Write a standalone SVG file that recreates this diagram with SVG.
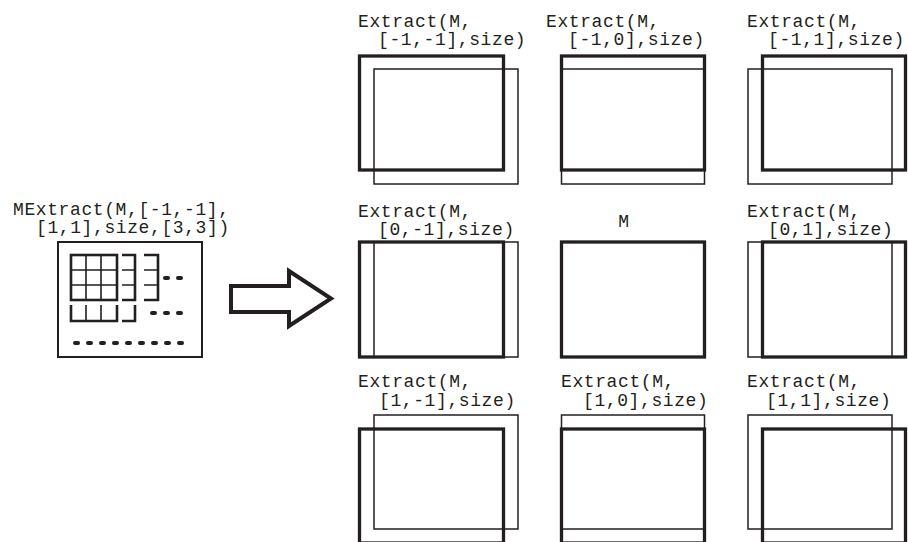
<svg xmlns="http://www.w3.org/2000/svg" width="908" height="542" viewBox="0 0 908 542">
<style>
text{font-family:"Liberation Mono","DejaVu Sans Mono",monospace;font-size:18px;letter-spacing:0.6px;fill:#231f20}
.thin{fill:none;stroke:#231f20;stroke-width:1.5}
.thick{fill:none;stroke:#231f20;stroke-width:3.3}
.ic{fill:none;stroke:#231f20;stroke-width:2.6}
.ic2{fill:none;stroke:#231f20;stroke-width:1.6}
.dots{fill:none;stroke:#231f20;stroke-width:4;stroke-linecap:round;stroke-dasharray:3 10}
</style>
<rect width="908" height="542" fill="#fff"/>

<g id="mextract">
<text x="13" y="215">MExtract(M,[-1,-1],</text>
<text x="36" y="233">[1,1],size,[3,3])</text>
<rect x="58" y="242" width="144" height="115" fill="none" stroke="#231f20" stroke-width="2"/>
<path class="ic2" d="M86 255V300M101 255V300M71 270H117M71 285H117"/>
<rect class="ic" x="71" y="255" width="46" height="45"/>
<path class="ic" d="M122 255H135V300H122"/>
<path class="ic2" d="M122 270H135M122 285H135"/>
<path class="ic" d="M144 255H158V300H144"/>
<path class="ic2" d="M144 270H158M144 285H158"/>
<line class="dots" x1="165" y1="278" x2="185" y2="278"/>
<path class="ic" d="M71 305V321H117V305"/>
<path class="ic2" d="M86 305V321M101 305V321"/>
<path class="ic" d="M122 321H135V305"/>
<line class="dots" x1="152" y1="313" x2="185" y2="313"/>
<line class="dots" x1="75" y1="343" x2="185" y2="343"/>
</g>

<g id="arrow">
<path d="M231 286H289V271L331 298.5L289 326V312H231Z" fill="#fff" stroke="#231f20" stroke-width="4" stroke-linejoin="miter"/>
</g>

<g id="e_m1_m1">
<text x="358" y="27">Extract(M,</text>
<text x="378" y="45">[-1,-1],size)</text>
<rect class="thin" x="374" y="69" width="144" height="115"/>
<rect class="thick" x="359.5" y="56" width="144" height="114"/>
</g>
<g id="e_m1_0">
<text x="546" y="27">Extract(M,</text>
<text x="568" y="45">[-1,0],size)</text>
<rect class="thin" x="561.5" y="69" width="143" height="115"/>
<rect class="thick" x="561.5" y="56" width="143" height="114"/>
</g>
<g id="e_m1_1">
<text x="747" y="27">Extract(M,</text>
<text x="768" y="45">[-1,1],size)</text>
<rect class="thin" x="748" y="69" width="144" height="115"/>
<rect class="thick" x="762.5" y="56" width="143" height="114"/>
</g>

<g id="e_0_m1">
<text x="358" y="217">Extract(M,</text>
<text x="378" y="235">[0,-1],size)</text>
<rect class="thin" x="374" y="242" width="144" height="115"/>
<rect class="thick" x="359.5" y="242" width="144" height="115"/>
</g>
<g id="m">
<text x="624" y="227" text-anchor="middle">M</text>
<rect class="thick" x="561.5" y="242" width="143" height="115"/>
</g>
<g id="e_0_1">
<text x="747" y="217">Extract(M,</text>
<text x="768" y="235">[0,1],size)</text>
<rect class="thin" x="748" y="242" width="144" height="115"/>
<rect class="thick" x="762.5" y="242" width="143" height="115"/>
</g>

<g id="e_1_m1">
<text x="358" y="387">Extract(M,</text>
<text x="379" y="406">[1,-1],size)</text>
<rect class="thin" x="374" y="415" width="144" height="114"/>
<rect class="thick" x="359.5" y="429" width="144" height="114"/>
</g>
<g id="e_1_0">
<text x="561" y="387">Extract(M,</text>
<text x="583" y="406">[1,0],size)</text>
<rect class="thin" x="561.5" y="415" width="143" height="114"/>
<rect class="thick" x="561.5" y="429" width="143" height="114"/>
</g>
<g id="e_1_1">
<text x="747" y="387">Extract(M,</text>
<text x="766" y="406">[1,1],size)</text>
<rect class="thin" x="748" y="415" width="144" height="114"/>
<rect class="thick" x="762.5" y="429" width="143" height="114"/>
</g>

<g id="connectors"></g>
</svg>
